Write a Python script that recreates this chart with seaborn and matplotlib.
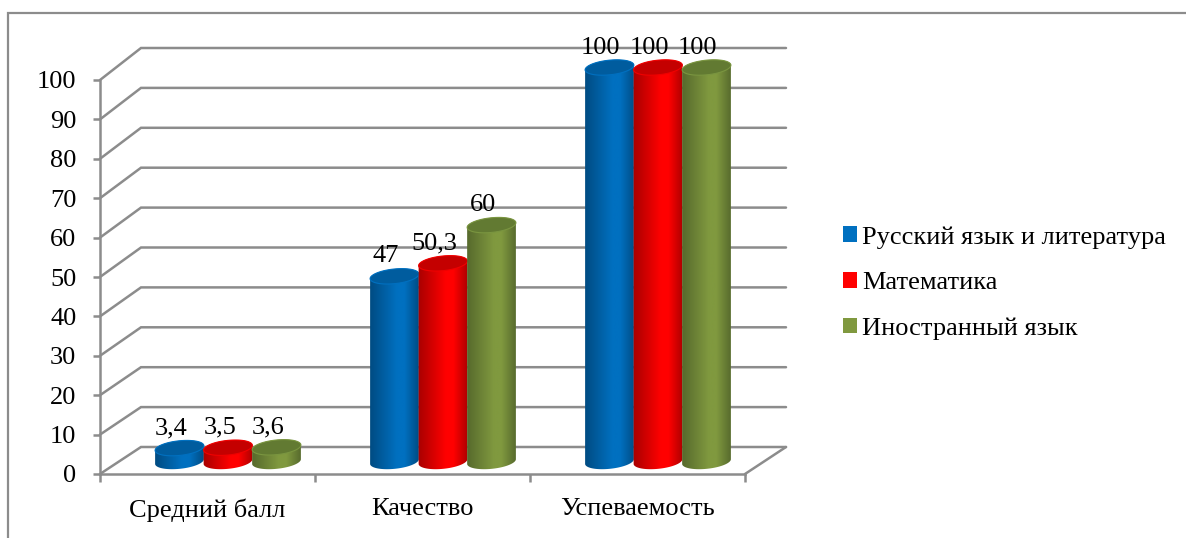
import numpy as np
import pandas as pd
import matplotlib
matplotlib.use("Agg")
import matplotlib.pyplot as plt
import seaborn as sns
from matplotlib.lines import Line2D
from matplotlib.patches import Patch, Polygon
from matplotlib.path import Path
from matplotlib.colors import LinearSegmentedColormap
from matplotlib.transforms import IdentityTransform

categories = ["Средний балл", "Качество", "Успеваемость"]
russian = [3.4, 47, 100]
maths = [3.5, 50.3, 100]
foreign = [3.6, 60, 100]
series_names = ["Русский язык и литература", "Математика", "Иностранный язык"]
yticks = list(range(0, 101, 10))

# side colours: edge, middle, cap, cap rim
blue = ["#004a80", "#0070c0", "#005c9e", "#0070c0"]
red = ["#a80000", "#ff0000", "#c40000", "#f00000"]
green = ["#55682c", "#80993f", "#627a32", "#7a9540"]

sns.set_theme(style="white")
plt.rcParams["font.family"] = ["Liberation Serif", "DejaVu Serif"]
GRAY = "#8c8c8c"
LW = 1.8
FS = 19

W, H = 1186, 538
fig = plt.figure(figsize=(W / 100, H / 100), dpi=100)
ax = fig.add_axes([100 / W, (H - 474) / H, 645 / W, 394 / H])

df = pd.DataFrame({
    "cat": categories * 3,
    "series": np.repeat(series_names, 3),
    "value": russian + maths + foreign,
})
sns.barplot(data=df, x="cat", y="value", hue="series", hue_order=series_names,
            palette=[blue[1], red[1], green[1]], width=0.677, gap=0,
            legend=False, ax=ax, errorbar=None)
ax.set_xlim(-0.5, 2.5)
ax.set_ylim(0, 100)
ax.set_xlabel("")
ax.set_ylabel("")

# walls and floor, in data units of the front plane
dx = 41 / 215
dy0 = 27 / 3.94
ys = 3.99 / 3.94


def back(v):
    return v * ys + dy0


for v in yticks:
    ax.plot([-0.5, -0.5 + dx, 2.5 + dx], [v, back(v), back(v)], color=GRAY, lw=LW,
            clip_on=False, zorder=1, solid_joinstyle="miter")
ax.plot([2.5, 2.5 + dx], [0, back(0)], color=GRAY, lw=LW, clip_on=False, zorder=1)

sns.despine(ax=ax)
for s in ("left", "bottom"):
    ax.spines[s].set_color(GRAY)
    ax.spines[s].set_linewidth(LW)
ax.set_yticks(yticks)
ax.set_xticks([0, 1, 2], categories)
ax.set_xticks([-0.5, 0.5, 1.5, 2.5], minor=True)
ax.tick_params(axis="y", length=5, width=LW, color=GRAY, pad=12, labelsize=FS,
               labelcolor="black", left=True)
ax.tick_params(axis="x", which="major", length=0, pad=17.5, labelsize=FS, labelcolor="black")
ax.tick_params(axis="x", which="minor", length=6, width=LW, color=GRAY, bottom=True)

# cylinders, built on the bars seaborn made
A, B = 24.5, 7.3
TILT = np.radians(6)
SHIFT_X, SHIFT_Y = 20.5, 12.5


def ell(cx, cy, t):
    return np.column_stack([
        cx + A * np.cos(t) * np.cos(TILT) - B * np.sin(t) * np.sin(TILT),
        cy + A * np.cos(t) * np.sin(TILT) + B * np.sin(t) * np.cos(TILT),
    ])


fig.canvas.draw()
bars = [p for p in ax.patches if p.get_height() > 0]
colours = [blue] * 3 + [red] * 3 + [green] * 3
values = russian + maths + foreign
label_dx = [-8, -9, -9] * 3
z = 3
for bar, col, val, ldx in zip(bars, colours, values, label_dx):
    bar.set_visible(False)
    x0 = bar.get_x()
    w = bar.get_width()
    h = bar.get_height()
    cx, base = ax.transData.transform((x0 + w / 2, 0))
    _, top = ax.transData.transform((x0 + w / 2, h))
    cx += SHIFT_X
    base += SHIFT_Y
    top += SHIFT_Y

    lower = ell(cx, base, np.linspace(0, -np.pi, 60))
    upper = ell(cx, top, np.linspace(np.pi, 0, 60))
    body = Path(np.vstack([lower, upper, lower[:1]]), closed=True)

    cmap = LinearSegmentedColormap.from_list("side", [(0, col[0]), (0.55, col[1]), (0.7, col[1]), (1, col[0])])
    grad = np.linspace(0, 1, 128).reshape(1, -1)
    inv = ax.transData.inverted()
    (ex0, ey0), (ex1, ey1) = inv.transform([(cx - A - 1, base - B - 6), (cx + A + 1, top + B + 6)])
    im = ax.imshow(grad, cmap=cmap, extent=(ex0, ex1, ey0, ey1), aspect="auto",
                   interpolation="bilinear", zorder=z)
    im.set_clip_box(fig.bbox)
    im.set_clip_path(body, IdentityTransform())
    cap = Polygon(ell(cx, top, np.linspace(0, 2 * np.pi, 120)), closed=True, facecolor=col[2],
                  edgecolor=col[3], lw=0.8, transform=IdentityTransform(), zorder=z + 0.5, clip_on=False)
    ax.add_patch(cap)
    ax.annotate(f"{val:g}".replace(".", ","), xy=(cx + ldx, top + 20), xycoords=IdentityTransform(),
                ha="center", va="center", fontsize=FS, color="black", zorder=20, annotation_clip=False)
    z += 1

ax.set_xlim(-0.5, 2.5)
ax.set_ylim(0, 100)

handles = [Patch(facecolor=c[1], edgecolor="none") for c in (blue, red, green)]
fig.legend(handles, series_names, loc="center left", bbox_to_anchor=(835 / W, (H - 283) / H),
           frameon=False, fontsize=FS, handlelength=0.54, handleheight=0.54, handletextpad=0.2,
           labelspacing=0.88, labelcolor="black", borderpad=0, borderaxespad=0.3)

# outer frame, only left and top fall inside the picture
fig.add_artist(Line2D([8 / W, 8 / W, 1], [0, (H - 13) / H, (H - 13) / H], color=GRAY, lw=1.6,
                      solid_joinstyle="miter"))

fig.savefig("out.png", dpi=100, facecolor="white")
